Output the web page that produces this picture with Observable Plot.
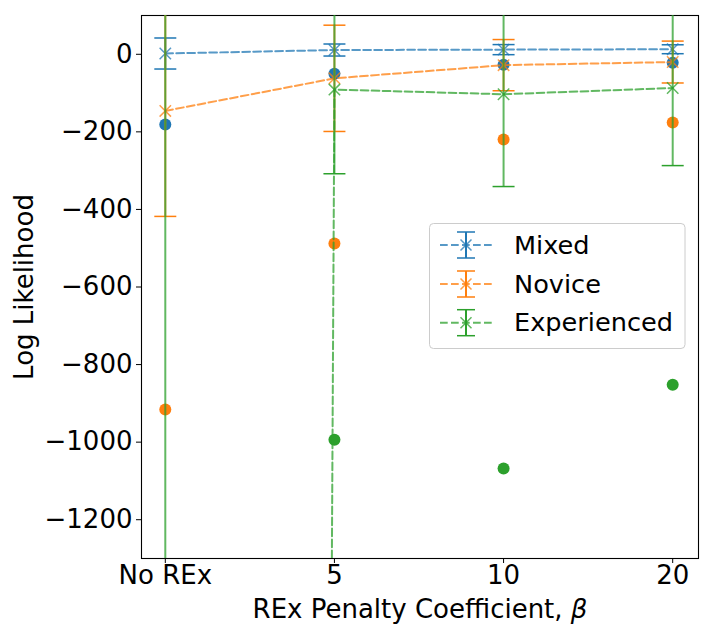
<!DOCTYPE html>
<html>
<head>
<meta charset="utf-8">
<script src="https://cdn.jsdelivr.net/npm/d3@7"></script>
<script src="https://cdn.jsdelivr.net/npm/@observablehq/plot@0.6"></script>
<style>
  html, body { margin: 0; padding: 0; background: white; }
  #wrap { position: relative; width: 711px; height: 639px; }
  #wrap svg { position: absolute; left: 0; top: 0; }
</style>
</head>
<body>
<div id="wrap"></div>
<script>
// ---- data ----
const categories = ["No REx", "5", "10", "20"];
const seriesNames = ["Mixed", "Novice", "Experienced"];
const seriesColors = ["#1f77b4", "#ff7f0e", "#2ca02c"];

const mixedMean = [2, 11, 12, 13];
const mixedErr = [40, 15.5, 13, 11.5];
const mixedDot = [-181, -50, -27, -22];

const noviceMean = [-146, -62, -28, -20];
const noviceErr = [272, 137, 66, 54];
const noviceDot = [-916, -488, -220, -176];

const expMean = [-80000, -91, -103, -87];
const expErr = [100000, 217, 238, 200];
const expDot = [null, -994, -1068, -852];

const yTicks = [-1200, -1000, -800, -600, -400, -200, 0];

// ---- build tables ----
const means = [mixedMean, noviceMean, expMean];
const errs = [mixedErr, noviceErr, expErr];
const dotsV = [mixedDot, noviceDot, expDot];
const series = seriesNames.map((name, k) => ({
  name, color: seriesColors[k],
  rows: categories.map((c, i) => ({
    x: c, y: means[k][i], lo: means[k][i] - errs[k][i], hi: means[k][i] + errs[k][i], d: dotsV[k][i]
  }))
}));

const capSymbol = { draw(ctx) { ctx.moveTo(-11, 0); ctx.lineTo(11, 0); } };
const xSymbol = { draw(ctx) { const r = 5.7; ctx.moveTo(-r, -r); ctx.lineTo(r, r); ctx.moveTo(-r, r); ctx.lineTo(r, -r); } };
const dash = "7.7,3.3";

const marks = [Plot.frame({ stroke: "black", strokeWidth: 1.1 })];
for (const s of series) {
  marks.push(Plot.dot(s.rows.filter(r => r.d != null), { x: "x", y: "d", r: 6, fill: s.color, stroke: "none", clip: true }));
}
for (const s of series) {
  marks.push(
    Plot.ruleX(s.rows, { x: "x", y1: "lo", y2: "hi", stroke: s.color, strokeOpacity: 0.75, strokeWidth: 2, clip: true }),
    Plot.dot(s.rows, { x: "x", y: "lo", symbol: capSymbol, stroke: s.color, fill: "none", strokeWidth: 1.5, clip: true }),
    Plot.dot(s.rows, { x: "x", y: "hi", symbol: capSymbol, stroke: s.color, fill: "none", strokeWidth: 1.5, clip: true }),
    Plot.line(s.rows, { x: "x", y: "y", stroke: s.color, strokeOpacity: 0.75, strokeWidth: 2, strokeDasharray: dash, clip: true }),
    Plot.dot(s.rows, { x: "x", y: "y", symbol: xSymbol, stroke: s.color, strokeOpacity: 0.75, fill: "none", strokeWidth: 1.5, clip: true })
  );
}

const chart = Plot.plot({
  width: 711,
  height: 639,
  marginLeft: 141,
  marginRight: 13,
  marginTop: 15,
  marginBottom: 81,
  style: { fontFamily: "DejaVu Sans", fontSize: "26px", color: "black", background: "white" },
  x: {
    type: "point", domain: categories, range: [164.8, 672.2], padding: 0, round: false,
    label: "REx Penalty Coefficient, β", labelAnchor: "center", labelOffset: 59, labelArrow: "none",
    tickSize: 5, tickPadding: 2
  },
  y: {
    domain: [-1300, 100], ticks: yTicks, tickFormat: d3.format("d"),
    label: "Log Likelihood", labelAnchor: "center", labelOffset: 127, labelArrow: "none",
    tickSize: 5, tickPadding: 4
  },
  marks
});
document.getElementById("wrap").appendChild(chart);

// italic beta in the x label
d3.select(chart).selectAll("text").each(function () {
  const t = d3.select(this);
  if (t.text() === "REx Penalty Coefficient, β") {
    const tspan = t.select("tspan");
    const target = tspan.empty() ? t : tspan;
    target.text("REx Penalty Coefficient, ");
    target.append("tspan").attr("font-style", "italic").text("β");
  }
});

// ---- legend overlay ----
const leg = d3.select("#wrap").append("svg")
  .attr("width", 711).attr("height", 639)
  .style("pointer-events", "none")
  .style("font-family", "DejaVu Sans").style("font-size", "25.6px");
leg.append("rect").attr("x", 429.5).attr("y", 223.5).attr("width", 255.5).attr("height", 125)
  .attr("rx", 4).attr("fill", "white").attr("fill-opacity", 0.8).attr("stroke", "#cccccc").attr("stroke-width", 1);
const legRowY = [245, 284, 322.7];
seriesNames.forEach((name, k) => {
  const y = legRowY[k], c = seriesColors[k], cx = 466;
  const g = leg.append("g");
  g.append("line").attr("x1", 440).attr("x2", 492).attr("y1", y).attr("y2", y)
    .attr("stroke", c).attr("stroke-opacity", 0.75).attr("stroke-width", 2).attr("stroke-dasharray", dash);
  g.append("line").attr("x1", cx).attr("x2", cx).attr("y1", y - 13).attr("y2", y + 13)
    .attr("stroke", c).attr("stroke-width", 2);
  [-13, 13].forEach(o => g.append("line").attr("x1", cx - 9).attr("x2", cx + 9).attr("y1", y + o).attr("y2", y + o)
    .attr("stroke", c).attr("stroke-width", 1.5));
  g.append("path").attr("d", `M${cx-5.5},${y-5.5}L${cx+5.5},${y+5.5}M${cx-5.5},${y+5.5}L${cx+5.5},${y-5.5}`)
    .attr("stroke", c).attr("stroke-opacity", 0.75).attr("stroke-width", 1.5).attr("fill", "none");
  g.append("text").attr("x", 514).attr("y", y + 8.5).attr("fill", "black").text(name);
});
</script>
</body>
</html>
